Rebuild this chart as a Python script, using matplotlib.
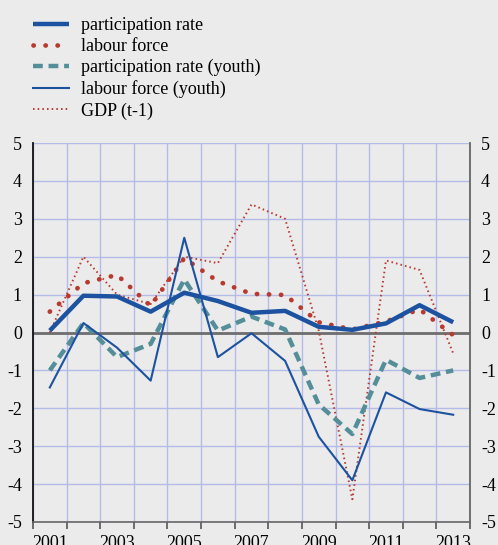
import matplotlib
matplotlib.use("Agg")
import matplotlib.pyplot as plt
import numpy as np

# data
years = list(range(2001, 2014))
part_rate = [0.05, 0.97, 0.95, 0.55, 1.05, 0.83, 0.52, 0.57, 0.15, 0.07, 0.24, 0.72, 0.27]
labour_force = [0.55, 1.3, 1.52, 0.7, 1.96, 1.35, 1.02, 0.99, 0.27, 0.08, 0.29, 0.61, -0.07]
part_rate_youth = [-1.0, 0.25, -0.65, -0.3, 1.4, 0.05, 0.42, 0.08, -1.9, -2.68, -0.72, -1.2, -1.0]
labour_force_youth = [-1.45, 0.25, -0.4, -1.27, 2.5, -0.65, -0.02, -0.75, -2.75, -3.9, -1.58, -2.02, -2.17]
gdp_lag = [0.0, 2.0, 1.0, 0.75, 2.0, 1.83, 3.38, 3.0, 0.05, -4.4, 1.9, 1.65, -0.55]
labels = ["participation rate", "labour force", "participation rate (youth)",
          "labour force (youth)", "GDP (t-1)"]

bg = "#ebebeb"
blue = "#1c52a0"
red = "#b83a2e"
teal = "#538e99"
gridc = "#b3bce6"

plt.rcParams['font.family'] = ['Liberation Serif', 'DejaVu Serif']

fig = plt.figure(figsize=(4.98, 5.45), dpi=100, facecolor=bg)
ax = fig.add_axes([33/498, 23/545, 437/498, 379/545], facecolor=bg)

x = np.arange(len(years))

ax.plot(x, part_rate, color=blue, lw=3.2, solid_capstyle="butt", label=labels[0], zorder=5)
ax.plot(x, labour_force, color=red, lw=3.4, linestyle=(0, (0.05, 2.5)),
        dash_capstyle="round", label=labels[1], zorder=4)
ax.plot(x, part_rate_youth, color=teal, lw=3.2, linestyle=(0, (2.2, 1.3)),
        label=labels[2], zorder=3)
ax.plot(x, labour_force_youth, color=blue, lw=1.5, label=labels[3], zorder=6)
ax.plot(x, gdp_lag, color=red, lw=1.4, linestyle=(0, (0.8, 1.6)), label=labels[4], zorder=2)

ax.set_xlim(-0.5, len(years) - 0.5)
ax.set_ylim(-5, 5)

# grid on category boundaries and every integer
ax.set_xticks(np.arange(-0.5, len(years)), minor=True)
ax.set_xticks(x[::2])
ax.set_xticklabels([str(y) for y in years[::2]], fontsize=13)
ax.set_yticks(range(-5, 6))
ax.set_yticklabels([str(v) for v in range(-5, 6)], fontsize=13)
ax.grid(True, which="minor", axis="x", color=gridc, lw=1)
ax.grid(True, which="major", axis="y", color=gridc, lw=1)
ax.set_axisbelow(True)
ax.axhline(0, color="#6e6e6e", lw=2, zorder=1)

ax.tick_params(axis="x", which="major", length=0, pad=9)
ax.tick_params(axis="x", which="minor", length=5, direction="out", color="#555555", width=1.2)
ax.tick_params(axis="y", length=0, labelright=True, pad=8)

ax.spines["top"].set_visible(False)
ax.spines["left"].set_color("#111111")
ax.spines["left"].set_linewidth(1.3)
ax.spines["right"].set_color("#666666")
ax.spines["right"].set_linewidth(1.3)
ax.spines["bottom"].set_color("#666666")
ax.spines["bottom"].set_linewidth(1.2)

fig.legend(loc="upper left", bbox_to_anchor=(26/498, 1 - 10/545), frameon=False,
           fontsize=13, handlelength=2.0, labelspacing=0.22, handletextpad=0.62,
           borderaxespad=0)

fig.savefig("out.png", dpi=100, facecolor=bg)
